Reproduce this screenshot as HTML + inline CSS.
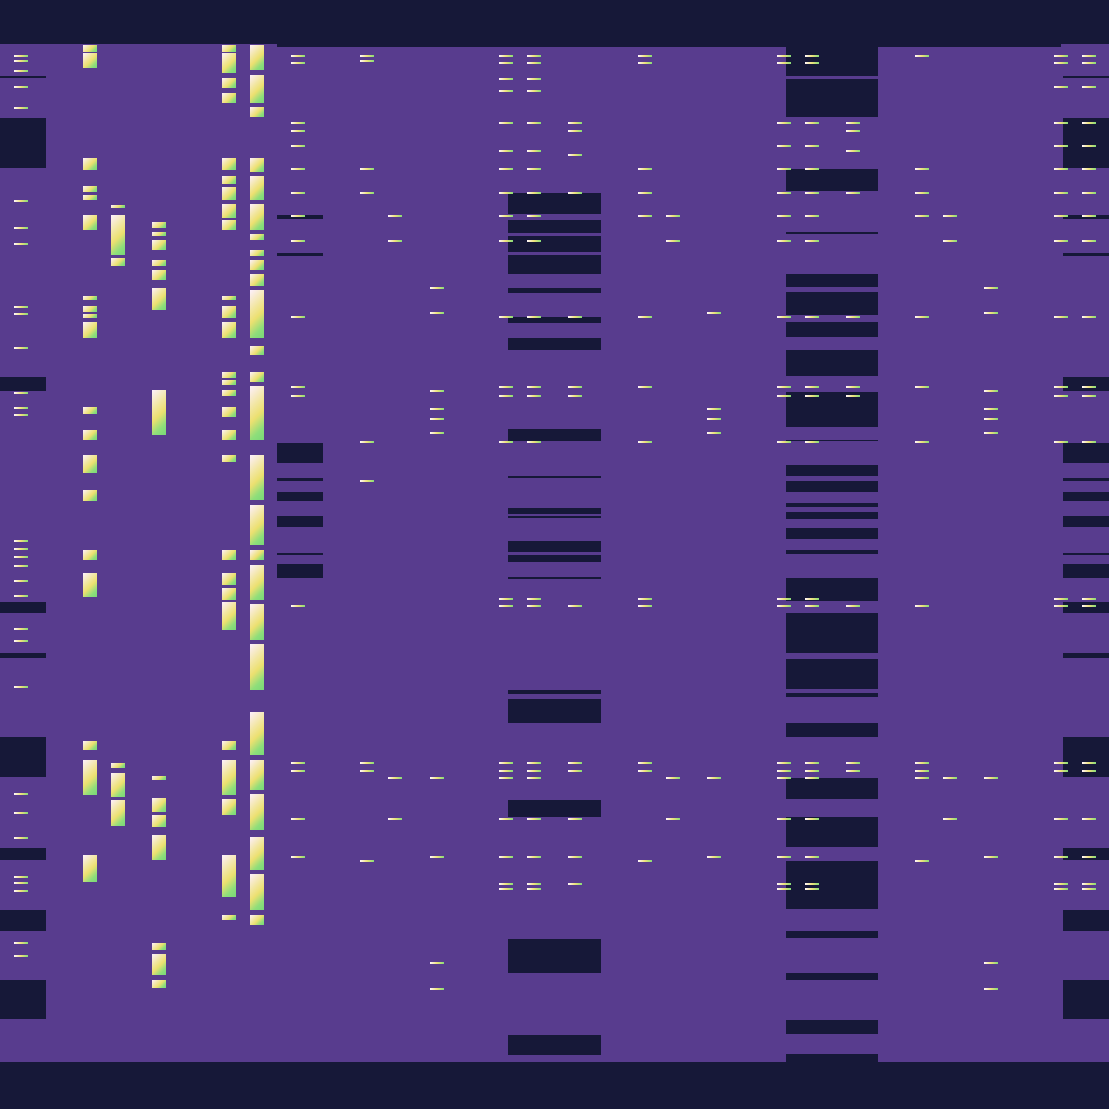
<!DOCTYPE html>
<html><head><meta charset="utf-8"><style>
html,body{margin:0;padding:0}
#c{position:relative;width:1109px;height:1109px;background:#583c8e;overflow:hidden}
#c div{position:absolute}
.d{background:#161838}
.b{background:linear-gradient(135deg,#fdf0ff 0%,#f2e6a0 35%,#ece070 55%,#8ede7a 80%,#78d878 100%)}
.l{background:linear-gradient(90deg,#fff6ff,#efe27a 50%,#86dc78)}
</style></head><body><div id="c"></div>
<script>
var c=document.getElementById('c');
function r(cls,x,y,w,h){var d=document.createElement('div');d.className=cls;d.style.left=x+'px';d.style.top=y+'px';d.style.width=w+'px';d.style.height=h+'px';c.appendChild(d);}
r('d',0,0,1109,44);r('d',0,1062,1109,47);r('d',277,44,784,3);
function dk(x,w,list){list.forEach(function(p){r('d',x,p[0],w,p[1]-p[0]);});}
var side=[[76,78],[118,168],[377,391],[602,613],[653,658],[737,777],[848,860],[910,931],[980,1019]];
dk(0,46,side);
dk(1063,46,side.concat([[215,219],[253,256],[443,463],[478,481],[492,501],[516,527],[553,555],[564,578]]));
dk(277,46,[[215,219],[253,256],[443,463],[478,481],[492,501],[516,527],[553,555],[564,578]]);
dk(508,93,[[193,214],[220,233],[236,252],[255,274],[288,293],[317,323],[338,350],[429,441],[476,478],[508,514],[516,518],[541,552],[555,562],[577,579],[690,694],[699,723],[800,817],[939,973],[1035,1055]]);
dk(786,92,[[47,76],[79,117],[169,191],[232,234],[274,287],[292,315],[322,337],[350,376],[392,427],[440,441],[465,476],[481,492],[503,507],[512,519],[528,539],[550,554],[578,601],[613,653],[659,689],[693,697],[723,737],[778,799],[817,847],[861,909],[931,938],[973,980],[1020,1034],[1054,1062]]);
function br(x,list){list.forEach(function(p){r('b',x,p[0],14,p[1]-p[0]);});}
br(83,[[45,52],[53,68],[158,170],[186,192],[195,200],[215,230],[296,300],[306,312],[314,318],[322,338],[407,414],[430,440],[455,473],[490,501],[550,560],[573,597],[741,750],[760,795],[855,882]]);
br(222,[[45,52],[53,73],[78,88],[93,103],[158,170],[176,184],[187,200],[204,218],[220,230],[296,300],[306,318],[322,338],[372,378],[380,385],[390,396],[407,417],[430,440],[455,462],[550,560],[573,585],[588,600],[602,630],[741,750],[760,795],[799,815],[855,897],[915,920]]);
br(250,[[45,70],[75,103],[107,117],[158,172],[176,200],[204,230],[234,240],[250,256],[260,270],[274,286],[290,338],[346,355],[372,382],[386,440],[455,500],[505,545],[550,560],[565,600],[604,640],[644,690],[712,755],[760,790],[794,830],[837,870],[874,910],[915,925]]);
br(111,[[205,208],[215,255],[258,266],[763,768],[773,797],[800,826]]);
br(152,[[222,228],[232,236],[240,250],[260,266],[270,280],[288,310],[390,435],[776,780],[798,812],[815,827],[835,860],[943,950],[954,975],[980,988]]);
function ln(xs,ys){xs.forEach(function(x){ys.forEach(function(y){r('l',x,y,14,2);});});}
ln([14],[55,60,70,86,107,200,227,243,306,313,347,392,407,414,540,548,556,565,580,595,628,640,686,793,812,837,876,882,890,942,955]);
ln([1054,1082],[55,62,86,122,145,168,192,215,240,316,386,395,441,598,605,762,770,818,856,883,888]);
ln([291],[55,62,122,130,145,168,192,215,240,316,386,395,605,762,770,818,856]);
ln([360],[55,60,168,192,441,480,762,770,860]);
ln([388,943],[215,240,777,818]);
ln([430,984],[287,312,390,408,418,432,777,856,962,988]);
ln([499,527],[55,62,78,90,122,150,168,192,215,240,316,386,395,441,598,605,762,770,777,818,856,883,888]);
ln([568],[122,130,154,192,316,386,395,605,762,770,818,856,883]);
ln([638],[55,62,168,192,215,316,386,441,598,605,762,770,860]);
ln([666],[215,240,777,818]);
ln([707],[312,408,418,432,777,856]);
ln([777,805],[55,62,122,145,168,192,215,240,316,386,395,441,598,605,762,770,777,818,856,883,888]);
ln([846],[122,130,150,192,316,386,395,605,762,770]);
ln([915],[55,168,192,215,316,386,441,605,762,770,777,860]);
</script></body></html>
